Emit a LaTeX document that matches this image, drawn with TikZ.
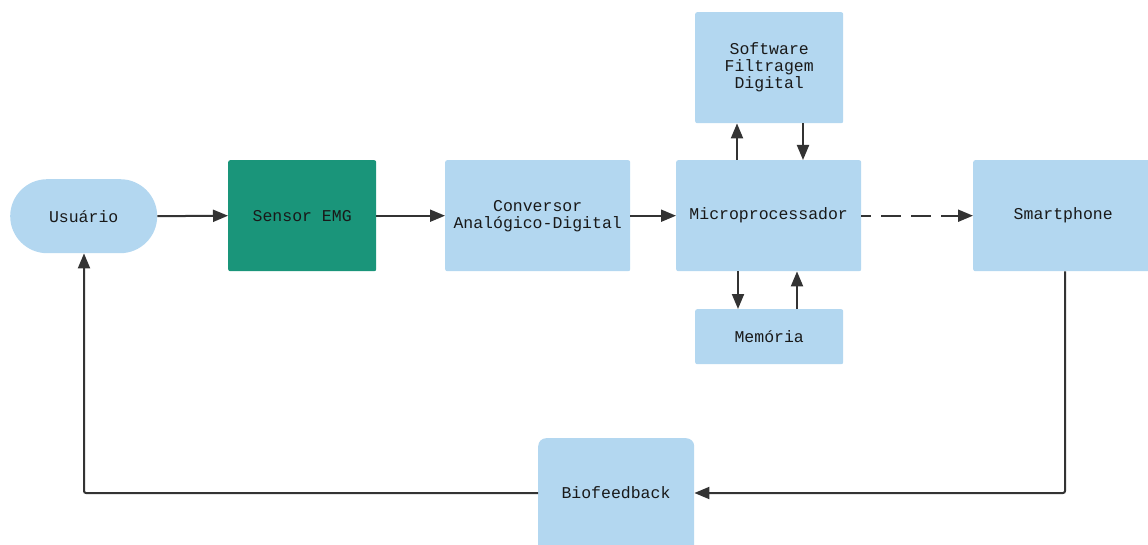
\documentclass[tikz,border=0pt]{standalone}
\usepackage{fontspec}
\setmonofont{Liberation Mono}
\usetikzlibrary{arrows.meta}
\definecolor{boxblue}{HTML}{B3D7F0}
\definecolor{sensorgreen}{HTML}{1A957A}
\definecolor{linegray}{HTML}{333333}
\tikzset{
  blk/.style={fill=boxblue, draw=none, rounded corners=2pt, inner sep=0pt, anchor=north west,
    font=\ttfamily\fontsize{16.5}{17}\selectfont, text=black!90, align=center},
  conn/.style={draw=linegray, line width=2pt, -{Triangle[length=15pt,width=12pt]}},
}
\begin{document}
\begin{tikzpicture}[x=1pt,y=-1pt]
\useasboundingbox (0,0) rectangle (1148,545);

% blocks
\node[blk, rounded corners=37pt, minimum width=147pt, minimum height=74pt] (user) at (10,179) {Usuário};
\node[blk, fill=sensorgreen, minimum width=148pt, minimum height=111pt] (sensor) at (228,160) {Sensor EMG};
\node[blk, minimum width=185pt, minimum height=111pt] (adc) at (445,160) {Conversor\\Analógico-Digital};
\node[blk, minimum width=185pt, minimum height=111pt] (mcu) at (676,160) {Microprocessador};
\node[blk, minimum width=148pt, minimum height=111pt] (soft) at (695,12) {Software\\Filtragem\\Digital};
\node[blk, minimum width=148pt, minimum height=55pt] (mem) at (695,309) {Memória};
\node[blk, minimum width=180pt, minimum height=111pt] (phone) at (973,160) {Smartphone};
\node[blk, rounded corners=8pt, minimum width=156pt, minimum height=115pt] (bio) at (538,438) {};
\node[font=\ttfamily\fontsize{16.5}{17}\selectfont, text=black!90] (biotext) at (616,493) {Biofeedback};

% main chain
\draw[conn] (user.east) -- (sensor.west);
\draw[conn] (sensor.east) -- (adc.west);
\draw[conn] (adc.east) -- (mcu.west);
\draw[conn, dash pattern=on 20pt off 10pt, dash phase=10pt] (mcu.east) -- (phone.west);

% microprocessor links
\draw[conn] (mcu.north west) ++(61,0) coordinate (a1) -- (a1 |- soft.south);
\draw[conn] (soft.south west) ++(108,0) coordinate (a2) -- (a2 |- mcu.north);
\draw[conn] (mcu.south west) ++(62,0) coordinate (a3) -- (a3 |- mem.north);
\draw[conn] (mem.north west) ++(102,0) coordinate (a4) -- (a4 |- mcu.south);

% feedback loop
\coordinate (c1) at (1065,493);
\coordinate (c2) at (84,493);
\draw[conn, rounded corners=2pt] (phone.south west) ++(92,0) -- (c1) -- (bio.east |- c1);
\draw[conn, rounded corners=2pt] (bio.west |- c2) -- (c2) -- (user.south -| c2);
\end{tikzpicture}
\end{document}
